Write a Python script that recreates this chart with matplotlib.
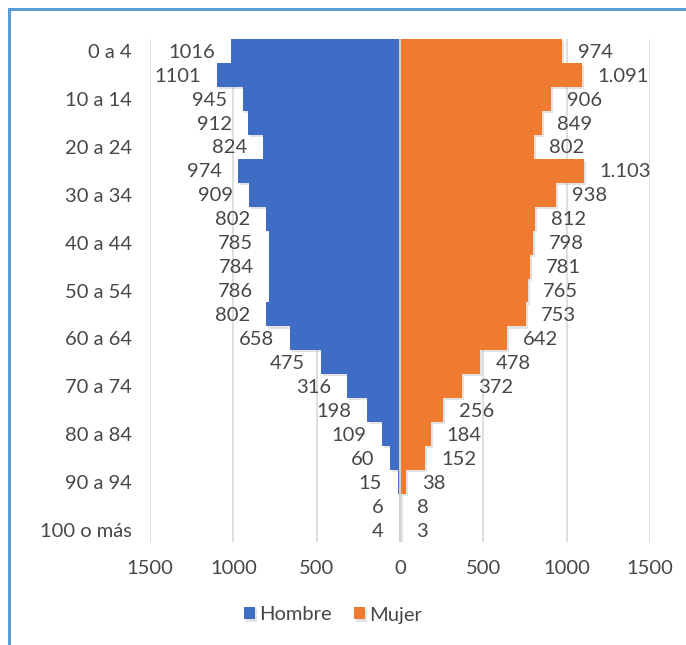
import matplotlib
matplotlib.use("Agg")
import matplotlib.pyplot as plt
import matplotlib.patheffects as pe
import numpy as np

# grupos de edad, de arriba hacia abajo
grupos = ["0 a 4", "5 a 9", "10 a 14", "15 a 19", "20 a 24", "25 a 29", "30 a 34",
          "35 a 39", "40 a 44", "45 a 49", "50 a 54", "55 a 59", "60 a 64", "65 a 69",
          "70 a 74", "75 a 79", "80 a 84", "85 a 89", "90 a 94", "95 a 99", "100 o más"]
hombre = [1016, 1101, 945, 912, 824, 974, 909, 802, 785, 784, 786, 802, 658, 475,
          316, 198, 109, 60, 15, 6, 4]
mujer = [974, 1091, 906, 849, 802, 1103, 938, 812, 798, 781, 765, 753, 642, 478,
         372, 256, 184, 152, 38, 8, 3]

def fmt(v, sep):
    s = str(v)
    if sep and v >= 1000:
        s = s[:-3] + "." + s[-3:]
    return s

plt.rcParams['font.family'] = ['Lato', 'DejaVu Sans']
gris = '#474747'
fs = 14.5

fig = plt.figure(figsize=(6.86, 6.45), dpi=100)
# marco del gráfico
fig.patches.append(plt.Rectangle((9/686, -0.1), 1.2, 1 - 9/645 + 0.1, transform=fig.transFigure,
                                 fill=False, edgecolor='#5B9BD5', linewidth=2.2))
ax = fig.add_axes([150/686, 1 - 542/645, 500/686, (542 - 39)/645])

y = np.arange(len(grupos))
sombra = [pe.SimplePatchShadow(offset=(1.5, -1.5), shadow_rgbFace='#B0B0B0', alpha=0.35), pe.Normal()]
bh = ax.barh(y, [-v for v in hombre], height=1.0, color='#3F6DC6', label='Hombre', zorder=3)
bm = ax.barh(y, mujer, height=1.0, color='#EE7B30', label='Mujer', zorder=3)
for b in list(bh) + list(bm):
    b.set_path_effects(sombra)

for i in range(len(grupos)):
    ax.text(-hombre[i] - 95, y[i] + 0.05, fmt(hombre[i], False), ha='right', va='center',
            fontsize=fs, color=gris, zorder=4)
    ax.text(mujer[i] + 95, y[i] + 0.05, fmt(mujer[i], True), ha='left', va='center',
            fontsize=fs, color=gris, zorder=4)

ax.set_xlim(-1500, 1500)
ax.set_ylim(len(grupos) - 0.5, -0.5)
ax.set_xticks([-1500, -1000, -500, 0, 500, 1000, 1500])
ax.set_xticklabels(["1500", "1000", "500", "0", "500", "1000", "1500"])
ax.set_yticks(y[::2])
ax.set_yticklabels(grupos[::2])
ax.tick_params(axis='both', length=0, labelsize=fs, labelcolor=gris)
ax.tick_params(axis='y', pad=13)
ax.tick_params(axis='x', pad=13)
ax.grid(axis='x', color='#D9D9D9', linewidth=1.2, zorder=0)
ax.axvline(0, color='#D0D0D0', linewidth=1.5, zorder=5)
for s in ax.spines.values():
    s.set_visible(False)

fig.legend(handles=[bh, bm], loc='center', bbox_to_anchor=(333/686, 1 - 615/645), ncol=2,
           frameon=False, fontsize=fs, labelcolor=gris, handlelength=0.55, handleheight=0.55,
           handletextpad=0.2, columnspacing=1.1)

fig.savefig("out.png", dpi=100)
